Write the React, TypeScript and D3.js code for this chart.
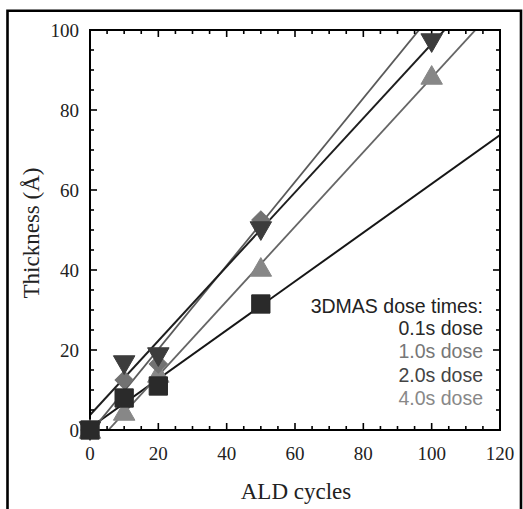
import React from "react";
import * as d3 from "d3";

// Cycle counts and film thickness (Å) for each 3DMAS dose time
const cycles = [0, 10, 20, 50, 100];
const dose01 = [0, 8, 11, 31.5, null];
const dose10 = [0, 12.5, 16.5, 52.5, null];
const dose20 = [0, 16.5, 18.5, 50, 97];
const dose40 = [0, 4.5, 14, 40.5, 88.5];

const seriesNames = ["0.1s dose", "1.0s dose", "2.0s dose", "4.0s dose"];
const xTicks = [0, 20, 40, 60, 80, 100, 120];
const yTicks = [0, 20, 40, 60, 80, 100];

const W = 523;
const H = 509;
const M = { left: 90, top: 30, right: 500, bottom: 430 };

type Pt = { x: number; y: number };

function toPoints(vals: (number | null)[]): Pt[] {
  return cycles
    .map((x, i) => ({ x, y: vals[i] as number }))
    .filter((p) => p.y !== null && p.y !== undefined);
}

// least-squares line through the deposited points (x > 0)
function fit(pts: Pt[]) {
  const p = pts.filter((d) => d.x > 0);
  const mx = d3.mean(p, (d) => d.x) as number;
  const my = d3.mean(p, (d) => d.y) as number;
  const sxy = d3.sum(p, (d) => (d.x - mx) * (d.y - my));
  const sxx = d3.sum(p, (d) => (d.x - mx) * (d.x - mx));
  const slope = sxy / sxx;
  return { slope, intercept: my - slope * mx };
}

export default function App() {
  const x = d3.scaleLinear().domain([0, 120]).range([M.left, M.right]);
  const y = d3.scaleLinear().domain([0, 100]).range([M.bottom, M.top]);

  const series = [
    { name: seriesNames[0], pts: toPoints(dose01), line: "#161616", lw: 2, marker: "square", fill: "#2a2a2a", text: "#2a2a2a" },
    { name: seriesNames[1], pts: toPoints(dose10), line: "#5a5a5a", lw: 1.8, marker: "diamond", fill: "#727272", text: "#777" },
    { name: seriesNames[2], pts: toPoints(dose20), line: "#1e1e1e", lw: 2, marker: "down", fill: "#3c3c3c", text: "#444" },
    { name: seriesNames[3], pts: toPoints(dose40), line: "#666", lw: 1.8, marker: "up", fill: "#878787", text: "#888" },
  ];

  const sym = (kind: string) => {
    if (kind === "square") return d3.symbol(d3.symbolSquare, 335)();
    if (kind === "diamond") return d3.symbol(d3.symbolSquare, 165)();
    return d3.symbol(d3.symbolTriangle, 200)();
  };

  const markerTransform = (kind: string, px: number, py: number) => {
    if (kind === "down") return `translate(${px},${py - 2}) rotate(180)`;
    if (kind === "up") return `translate(${px},${py + 2})`;
    if (kind === "diamond") return `translate(${px},${py}) rotate(45)`;
    return `translate(${px},${py})`;
  };

  const minor = d3.range(0, 121, 5);
  const minorY = d3.range(0, 101, 5);
  const serif = "'Liberation Serif', 'Times New Roman', serif";
  const sans = "'Liberation Sans', Arial, sans-serif";

  const drawOrder = [3, 1, 2, 0];
  const legendY = [335, 358, 382, 405];

  return (
    <svg
      width={W}
      height={H}
      style={{ position: "absolute", left: 0, top: 0, display: "block", background: "#fff" }}
    >
      <defs>
        <clipPath id="plot">
          <rect x={M.left} y={M.top} width={M.right - M.left} height={M.bottom - M.top} />
        </clipPath>
      </defs>

      {/* figure frame */}
      <path d={`M7.5,${H + 2} V10.8 H521 V${H + 2}`} fill="none" stroke="#000" strokeWidth={2.6} />

      {/* fit lines */}
      <g clipPath="url(#plot)">
        {series.map((s) => {
          const f = fit(s.pts);
          return (
            <line
              key={s.name}
              x1={x(0)}
              y1={y(f.intercept)}
              x2={x(120)}
              y2={y(f.intercept + f.slope * 120)}
              stroke={s.line}
              strokeWidth={s.lw}
            />
          );
        })}
      </g>

      {/* ticks on all four sides */}
      <g stroke="#000" strokeWidth={1.6}>
        {minor.map((v) => {
          const len = v % 20 === 0 ? 7 : 4;
          return (
            <g key={"x" + v}>
              <line x1={x(v)} x2={x(v)} y1={M.bottom} y2={M.bottom - len} />
              <line x1={x(v)} x2={x(v)} y1={M.top} y2={M.top + len} />
            </g>
          );
        })}
        {minorY.map((v) => {
          const len = v % 20 === 0 ? 7 : 4;
          return (
            <g key={"y" + v}>
              <line x1={M.left} x2={M.left + len} y1={y(v)} y2={y(v)} />
              <line x1={M.right} x2={M.right - len} y1={y(v)} y2={y(v)} />
            </g>
          );
        })}
      </g>
      <rect
        x={M.left}
        y={M.top}
        width={M.right - M.left}
        height={M.bottom - M.top}
        fill="none"
        stroke="#000"
        strokeWidth={2}
      />

      {/* markers */}
      {drawOrder.map((i) => {
        const s = series[i];
        return (
          <g key={"m" + s.name}>
            {s.pts.map((p, j) => (
              <path
                key={j}
                d={sym(s.marker) as string}
                transform={markerTransform(s.marker, x(p.x), y(p.y))}
                fill={s.fill}
                stroke={s.fill}
                strokeWidth={1}
              />
            ))}
          </g>
        );
      })}

      {/* tick labels */}
      <g fontFamily={serif} fontSize={19} fill="#222">
        {xTicks.map((v) => (
          <text key={"xl" + v} x={x(v)} y={460} textAnchor="middle">
            {v}
          </text>
        ))}
        {yTicks.map((v) => (
          <text key={"yl" + v} x={79} y={y(v) + 7} textAnchor="end">
            {v}
          </text>
        ))}
      </g>

      {/* axis titles */}
      <text x={296} y={499} textAnchor="middle" fontFamily={serif} fontSize={23} fill="#222">
        ALD cycles
      </text>
      <text
        transform="translate(39,233) rotate(-90)"
        textAnchor="middle"
        fontFamily={serif}
        fontSize={23}
        fill="#222"
      >
        Thickness (Å)
      </text>

      {/* legend */}
      <g fontFamily={sans} fontSize={19.5} textAnchor="end">
        <text x={483} y={313} fill="#222">
          3DMAS dose times:
        </text>
        {series.map((s, i) => (
          <text key={"lg" + s.name} x={483} y={legendY[i]} fill={s.text}>
            {s.name}
          </text>
        ))}
      </g>
    </svg>
  );
}
